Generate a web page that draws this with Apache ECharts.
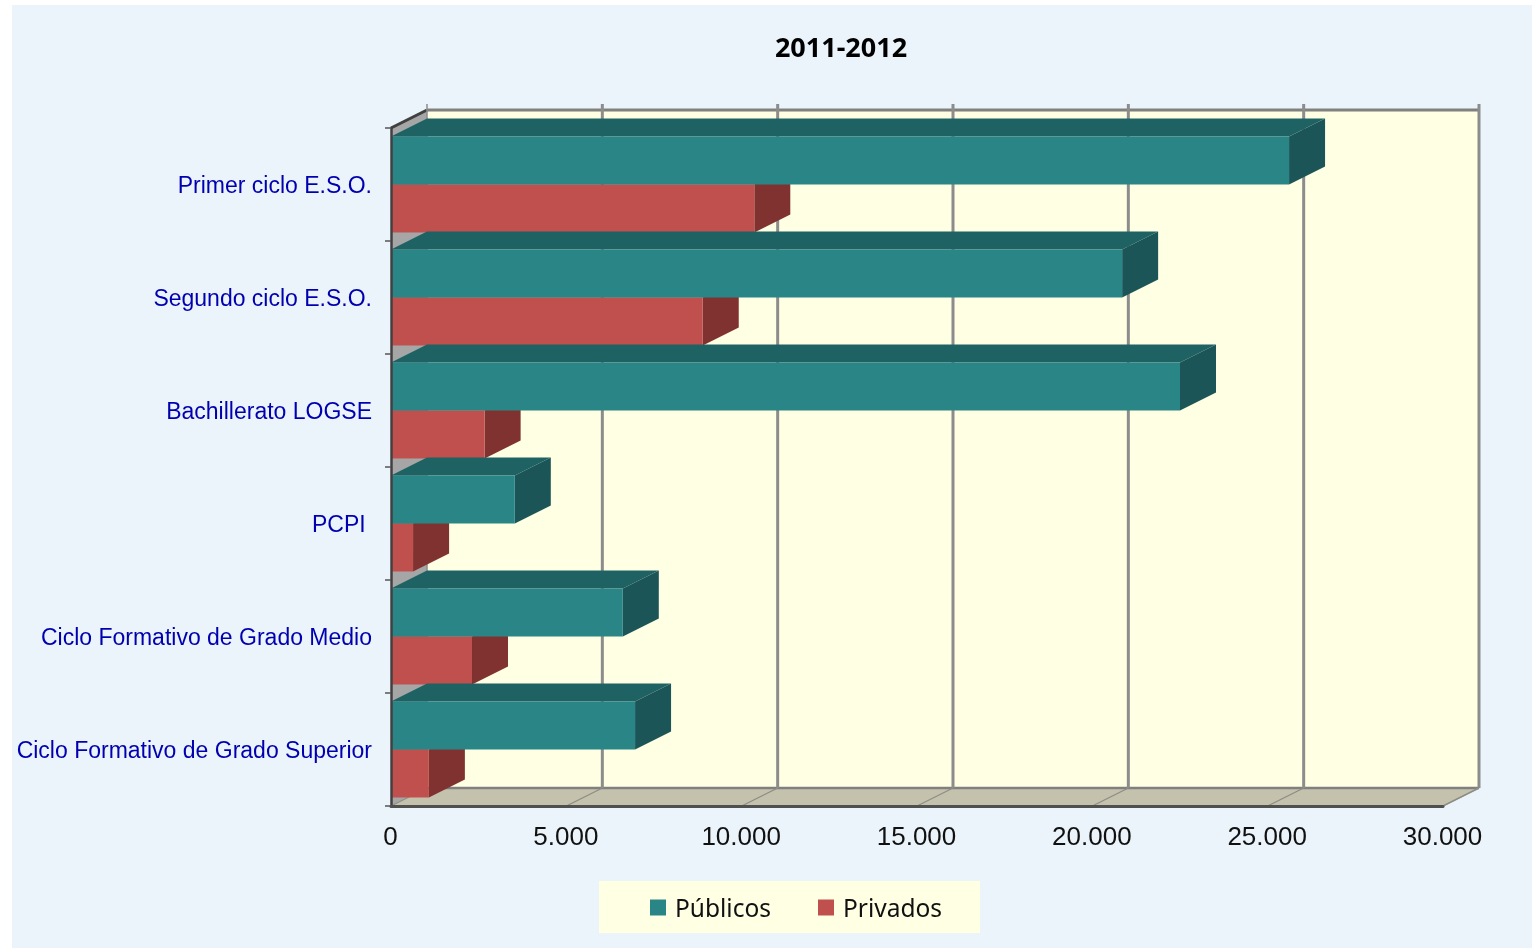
<!DOCTYPE html>
<html>
<head>
<meta charset="utf-8">
<style>
html,body{margin:0;padding:0;background:#fff;width:1532px;height:950px;overflow:hidden}
#panel{position:absolute;left:12px;top:5px;width:1520px;height:943px;background:#EBF4FA}
#main{position:absolute;left:0;top:0;width:1532px;height:950px}
</style>
<script src="https://cdn.jsdelivr.net/npm/echarts@6/dist/echarts.min.js"></script>
</head>
<body>
<div id="panel"></div>
<div id="main"></div>
<script>
const title = '2011-2012';
const categories = ['Primer ciclo E.S.O.', 'Segundo ciclo E.S.O.', 'Bachillerato LOGSE', 'PCPI ', 'Ciclo Formativo de Grado Medio', 'Ciclo Formativo de Grado Superior'];
const publicos = [25610, 20850, 22500, 3530, 6610, 6960];
const privados = [10360, 8890, 2670, 630, 2310, 1080];
const xTicks = [0, 5000, 10000, 15000, 20000, 25000, 30000];

const DX = 36, DY = -18;          // depth of the 3D projection
const gridLeft = 391, gridTop = 128, gridW = 1052, gridH = 678;

function poly(points, fill, z2) {
  return {type: 'polygon', shape: {points}, style: {fill}, z2: z2 || 0};
}
function seg(x1, y1, x2, y2, stroke, w, z2) {
  return {type: 'line', shape: {x1, y1, x2, y2}, style: {stroke, lineWidth: w}, z2: z2 || 1};
}

function renderWalls(params) {
  const c = params.coordSys;
  const x0 = c.x, x1 = c.x + c.width, y0 = c.y, y1 = c.y + c.height;
  return {type: 'group', children: [
    poly([[x0 + DX, y0 + DY], [x1 + DX, y0 + DY], [x1 + DX, y1 + DY], [x0 + DX, y1 + DY]], '#FFFFE3'),
    poly([[x0, y0], [x0 + DX, y0 + DY], [x0 + DX, y1 + DY], [x0, y1]], '#A6A6A6'),
    poly([[x0, y1], [x0 + DX, y1 + DY], [x1 + DX, y1 + DY], [x1, y1]], '#C4C2AC'),
    seg(x0 + DX, y0 + DY, x1 + DX, y0 + DY, '#808080', 3),
    seg(x0 + DX, y1 + DY, x1 + DX, y1 + DY, '#808080', 2.5),
    seg(x1, y1, x1 + DX, y1 + DY, '#9a9a90', 1.5),
    seg(x0, y0, x0 + DX, y0 + DY, '#404040', 3)
  ]};
}

function renderGridLine(params, api) {
  const c = params.coordSys;
  const v = api.value(0);
  const x = api.coord([v, 0])[0];
  const top = c.y + DY, bottom = c.y + c.height + DY;
  return {type: 'group', children: [
    seg(x + DX, top - 6, x + DX, bottom, '#8C8C8C', v === 0 ? 1.5 : 3),
    seg(x, bottom - DY, x + DX, bottom, '#8C8C84', 1.2)
  ]};
}

function renderBar(side, front, sideFill, topFill) {
  return function (params, api) {
    const v = api.value(0), cat = api.value(1);
    const end = api.coord([v, cat]);
    const start = api.coord([0, cat]);
    const h = api.size([0, 1])[1] * 0.425;
    const yA = side < 0 ? end[1] - h : end[1];
    const yB = yA + h;
    return {type: 'group', children: [
      poly([[start[0], yA], [start[0] + DX, yA + DY], [end[0] + DX, yA + DY], [end[0], yA]], topFill),
      poly([[end[0], yA], [end[0] + DX, yA + DY], [end[0] + DX, yB + DY], [end[0], yB]], sideFill),
      poly([[start[0], yA], [end[0], yA], [end[0], yB], [start[0], yB]], front)
    ]};
  };
}

const chart = echarts.init(document.getElementById('main'), null, {width: 1532, height: 950});
chart.setOption({
  backgroundColor: 'transparent',
  animation: false,
  title: {
    text: title, left: 836, top: 31, textAlign: 'center',
    textStyle: {fontFamily: 'Noto Sans', fontWeight: 'bold', fontSize: 27, color: '#000'}
  },
  legend: {
    left: 599, top: 881, orient: 'horizontal',
    data: ['Públicos', 'Privados'],
    icon: 'rect', itemWidth: 16, itemHeight: 16, itemGap: 47,
    backgroundColor: '#FFFFE3', padding: [17, 38, 10, 51],
    formatter: '{a|{name}}',
    textStyle: {
      fontFamily: 'Noto Sans', fontSize: 24.5, color: '#111',
      rich: {a: {fontFamily: 'Noto Sans', fontSize: 24.5, color: '#111', padding: [6, 0, 0, 4]}}
    }
  },
  grid: {left: gridLeft, top: gridTop, width: gridW, height: gridH},
  xAxis: {
    type: 'value', min: 0, max: 30000, interval: 5000, z: 10,
    axisLine: {show: true, lineStyle: {color: '#505050', width: 3}},
    axisTick: {show: false}, splitLine: {show: false},
    axisLabel: {
      margin: 19, fontFamily: 'Liberation Sans', fontSize: 26, color: '#111', padding: [0, 1, 0, 0],
      formatter: v => String(v).replace(/\B(?=(\d{3})+$)/g, '.')
    }
  },
  yAxis: {
    type: 'category', data: categories, inverse: true, z: 10,
    axisLine: {show: true, lineStyle: {color: '#404040', width: 2.5}},
    axisTick: {show: true, length: 6, lineStyle: {color: '#555', width: 1.5}},
    splitLine: {show: false},
    axisLabel: {
      margin: 19,
      formatter: v => '{a|' + v + '}',
      rich: {a: {fontFamily: 'Liberation Sans', fontSize: 23, color: '#0000B0', padding: [4, 0, 0, 0]}}
    }
  },
  series: [
    {type: 'custom', name: 'walls', silent: true, z: 1, renderItem: renderWalls, data: [[0, 0]], encode: {x: 0, y: 1}, clip: false},
    {type: 'custom', name: 'grid', silent: true, z: 2, renderItem: renderGridLine, data: xTicks.map(v => [v, 0]), encode: {x: 0, y: 1}, clip: false},
    {type: 'custom', name: 'Privados', z: 3, itemStyle: {color: '#C0504D'},
     renderItem: renderBar(1, '#C0504D', '#7F3230', '#8A3A37'),
     data: privados.map((v, i) => [v, i]), encode: {x: 0, y: 1}, clip: false},
    {type: 'custom', name: 'Públicos', z: 4, itemStyle: {color: '#2A8587'},
     renderItem: renderBar(-1, '#2A8587', '#1B5558', '#1F6264'),
     data: publicos.map((v, i) => [v, i]), encode: {x: 0, y: 1}, clip: false}
  ]
});
</script>
</body>
</html>
